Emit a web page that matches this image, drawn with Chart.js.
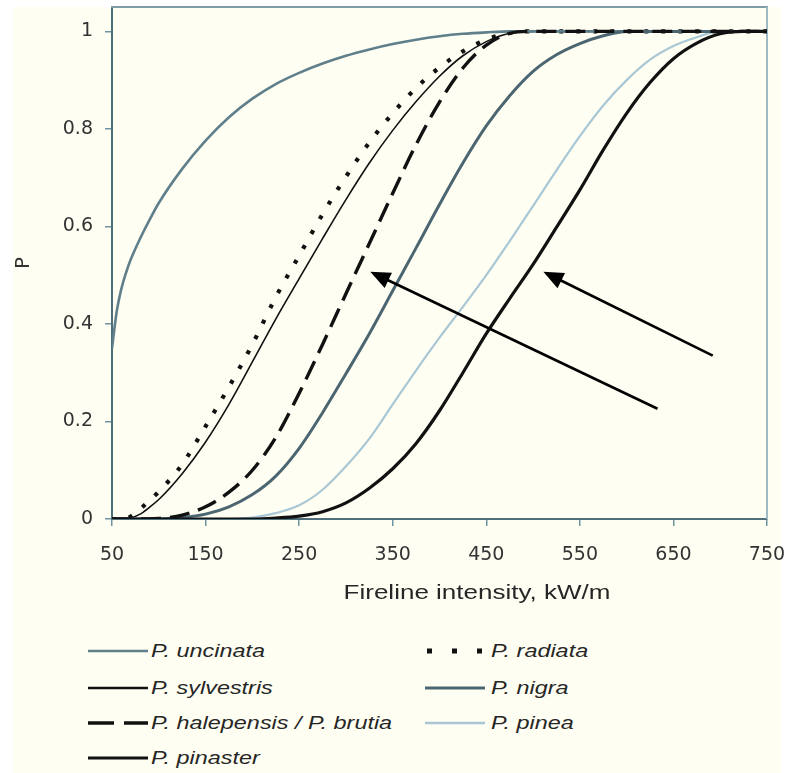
<!DOCTYPE html>
<html>
<head>
<meta charset="utf-8">
<script src="https://cdn.jsdelivr.net/npm/chart.js@4.4.1/dist/chart.umd.min.js"></script>
<style>
  html, body { margin: 0; padding: 0; background: #ffffff; }
  body { width: 789px; height: 773px; position: relative; overflow: hidden; }
  #bg { position: absolute; left: 13px; top: 7px; width: 768px; height: 766px; background: #fffef2; }
  #chart { position: absolute; left: 0; top: 0; }
  #xtitle { position: absolute; left: 477px; top: 581px; line-height: 20px;
    font: 20px "Liberation Sans", Arial, sans-serif; color: #262626; white-space: nowrap;
    transform: translateX(-50%) scaleX(1.3); }
  .lg-sample { position: absolute; width: 62px; height: 12px; }
  .lg-text { position: absolute; line-height: 20px; font: italic 18px "Liberation Sans", Arial, sans-serif;
    color: #262626; white-space: nowrap; transform-origin: 0 50%; transform: scaleX(1.3); }
</style>
</head>
<body>
<div id="bg"></div>
<canvas id="chart" width="789" height="610"></canvas>
<div id="xtitle">Fireline intensity, kW/m</div>
<div id="legend"></div>
<script>
// ---------- data ----------
const xValues = [50,55,60,65,70,80,90,100,125,150,175,200,225,250,275,300,325,350,375,400,425,450,475,500,525,550,575,600,625,650,675,700,725,750];

const uncinata   = [0.35,0.425,0.472,0.505,0.532,0.575,0.613,0.648,0.718,0.776,0.824,0.862,0.892,0.915,0.934,0.95,0.963,0.974,0.983,0.99,0.995,0.998,1,1,1,1,1,1,1,1,1,1,1,1];
const radiata    = [0,0,0,0.001,0.005,0.02,0.038,0.056,0.112,0.19,0.271,0.358,0.455,0.54,0.625,0.702,0.772,0.832,0.884,0.926,0.959,0.983,0.997,1,1,1,1,1,1,1,1,1,1,1];
const sylvestris = [0,0,0,0,0.002,0.01,0.024,0.04,0.093,0.158,0.235,0.322,0.41,0.493,0.575,0.655,0.73,0.797,0.856,0.908,0.95,0.979,0.996,1,1,1,1,1,1,1,1,1,1,1];
const halepensis = [0,0,0,0,0,0,0,0.001,0.008,0.025,0.055,0.10,0.167,0.258,0.358,0.462,0.565,0.668,0.768,0.855,0.925,0.972,0.996,1,1,1,1,1,1,1,1,1,1,1];
const nigra      = [0,0,0,0,0,0,0,0,0.003,0.01,0.025,0.05,0.088,0.145,0.218,0.298,0.38,0.468,0.556,0.645,0.73,0.806,0.868,0.918,0.952,0.975,0.991,1,1,1,1,1,1,1];
const pinea      = [0,0,0,0,0,0,0,0,0,0,0,0.003,0.012,0.028,0.06,0.108,0.165,0.235,0.305,0.372,0.435,0.5,0.57,0.642,0.715,0.785,0.848,0.9,0.942,0.97,0.988,1,1,1];
const pinaster   = [0,0,0,0,0,0,0,0,0,0,0,0,0.002,0.006,0.015,0.033,0.063,0.103,0.155,0.222,0.3,0.38,0.452,0.522,0.598,0.675,0.757,0.832,0.895,0.944,0.976,0.995,1,1];

const xTickValues = [50,150,250,350,450,550,650,750];
const yTickValues = [0,0.2,0.4,0.6,0.8,1];

// annotation arrows (tail -> head), in data units
const arrowTails = [[633,0.226],[692,0.335]];
const arrowHeads = [[326,0.507],[511,0.507]];

// ---------- series definitions ----------
const series = [
  { label: 'P. pinaster',               data: pinaster,   color: '#111111', width: 3.2, dash: [] },
  { label: 'P. halepensis / P. brutia', data: halepensis, color: '#111111', width: 3.4, dash: [20,9] },
  { label: 'P. nigra',                  data: nigra,      color: '#4b6671', width: 3,   dash: [] },
  { label: 'P. pinea',                  data: pinea,      color: '#a9c7d4', width: 2.2, dash: [] },
  { label: 'P. uncinata',               data: uncinata,   color: '#5f7f8b', width: 2.6, dash: [] },
  { label: 'P. radiata',                data: radiata,    color: '#111111', width: 4.2, dash: [4,13] },
  { label: 'P. sylvestris',             data: sylvestris, color: '#111111', width: 1.6, dash: [] }
];

Chart.defaults.font.family = '"DejaVu Sans", "Liberation Sans", Arial, sans-serif';
Chart.defaults.font.size = 19;
Chart.defaults.color = '#333333';

const framePlugin = {
  id: 'frame',
  beforeDatasetsDraw(chart) {
    const { ctx, chartArea: { left, right, top, bottom } } = chart;
    ctx.save();
    ctx.lineWidth = 2;
    ctx.strokeStyle = '#7f9ca7';
    ctx.beginPath(); ctx.moveTo(left - 1, top); ctx.lineTo(right + 1, top); ctx.stroke();
    ctx.strokeStyle = '#9dbac5';
    ctx.beginPath(); ctx.moveTo(right, top); ctx.lineTo(right, bottom); ctx.stroke();
    ctx.restore();
  },
  afterDatasetsDraw(chart) {
    const { ctx, scales: { x, y } } = chart;
    ctx.save();
    ctx.strokeStyle = '#000'; ctx.fillStyle = '#000'; ctx.lineWidth = 2.6;
    for (let i = 0; i < arrowTails.length; i++) {
      const x0 = x.getPixelForValue(arrowTails[i][0]), y0 = y.getPixelForValue(arrowTails[i][1]);
      const x1 = x.getPixelForValue(arrowHeads[i][0]), y1 = y.getPixelForValue(arrowHeads[i][1]);
      const a = Math.atan2(y1 - y0, x1 - x0);
      const L = 20, W = 8.5;
      const bx = x1 - L * Math.cos(a), by = y1 - L * Math.sin(a);
      ctx.beginPath(); ctx.moveTo(x0, y0); ctx.lineTo(bx + 2 * Math.cos(a), by + 2 * Math.sin(a)); ctx.stroke();
      ctx.beginPath();
      ctx.moveTo(x1, y1);
      ctx.lineTo(bx - W * Math.sin(a), by + W * Math.cos(a));
      ctx.lineTo(bx + W * Math.sin(a), by - W * Math.cos(a));
      ctx.closePath(); ctx.fill();
    }
    ctx.restore();
  }
};

new Chart(document.getElementById('chart'), {
  type: 'line',
  data: {
    datasets: series.map(s => ({
      label: s.label,
      data: xValues.map((v, i) => ({ x: v, y: s.data[i] })),
      borderColor: s.color,
      borderWidth: s.width,
      borderDash: s.dash,
      pointRadius: 0,
      fill: false,
      cubicInterpolationMode: 'monotone'
    }))
  },
  options: {
    responsive: false,
    animation: false,
    devicePixelRatio: 1,
    layout: { padding: { left: 0, top: 7, right: 22, bottom: 0 } },
    plugins: { legend: { display: false }, tooltip: { enabled: false } },
    scales: {
      x: {
        type: 'linear', min: 50, max: 750,
        afterBuildTicks: s => { s.ticks = xTickValues.map(v => ({ value: v })); },
        afterFit: s => { s.height = 91; s.paddingLeft = 0; s.paddingRight = 0; },
        ticks: { padding: 18, maxRotation: 0, autoSkip: false, color: '#333', callback: v => String(v) },
        grid: { drawOnChartArea: false, drawTicks: true, tickLength: 7, color: '#6f93a0', lineWidth: 1.5 },
        border: { display: true, color: '#4f6f7b', width: 2 },
        title: { display: false }
      },
      y: {
        type: 'linear', min: 0, max: 1.05,
        afterBuildTicks: s => { s.ticks = yTickValues.map(v => ({ value: v })); },
        afterFit: s => { s.width = 112; s.paddingTop = 0; s.paddingBottom = 0; },
        ticks: { padding: 12, autoSkip: false, color: '#333', callback: v => String(v) },
        grid: { drawOnChartArea: false, drawTicks: true, tickLength: 7, color: '#6f93a0', lineWidth: 1.5 },
        border: { display: true, color: '#4f6f7b', width: 2 },
        title: { display: true, text: 'P', color: '#333', font: { size: 20 }, padding: { top: 12, bottom: 0 } }
      }
    }
  },
  plugins: [framePlugin]
});

// ---------- HTML legend (two columns) ----------
const legendOrder = ['P. uncinata','P. radiata','P. sylvestris','P. nigra','P. halepensis / P. brutia','P. pinea','P. pinaster'];
const colSampleX = [88, 425], colTextX = [151, 491];
const rowY = [651, 688, 723, 758];
const legend = document.getElementById('legend');
legendOrder.forEach((name, i) => {
  const s = series.find(d => d.label === name);
  const col = i % 2, row = Math.floor(i / 2);
  const svgNS = 'http://www.w3.org/2000/svg';
  const svg = document.createElementNS(svgNS, 'svg');
  svg.setAttribute('class', 'lg-sample');
  svg.setAttribute('width', '62'); svg.setAttribute('height', '12');
  svg.style.left = colSampleX[col] + 'px';
  svg.style.top = (rowY[row] - 6) + 'px';
  const ln = document.createElementNS(svgNS, 'line');
  ln.setAttribute('x1', name === 'P. radiata' ? '2' : '0'); ln.setAttribute('y1', '6');
  ln.setAttribute('x2', '60'); ln.setAttribute('y2', '6');
  ln.setAttribute('stroke', s.color);
  ln.setAttribute('stroke-width', name === 'P. radiata' ? '5' : String(Math.max(s.width, 2.5)));
  if (name === 'P. radiata') ln.setAttribute('stroke-dasharray', '5 20');
  if (name === 'P. halepensis / P. brutia') ln.setAttribute('stroke-dasharray', '26 10');
  svg.appendChild(ln);
  legend.appendChild(svg);
  const t = document.createElement('div');
  t.className = 'lg-text';
  t.textContent = name;
  t.style.left = colTextX[col] + 'px';
  t.style.top = (rowY[row] - 10) + 'px';
  legend.appendChild(t);
});
</script>
</body>
</html>
